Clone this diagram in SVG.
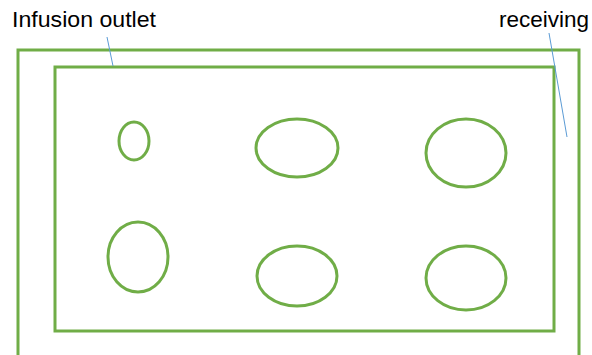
<svg xmlns="http://www.w3.org/2000/svg" width="592" height="355" viewBox="0 0 592 355">
<style>
.g{fill:none;stroke:#70AD47;stroke-width:3}
.l{fill:none;stroke:#5B9BD5;stroke-width:1}
text{font-family:"Liberation Sans",Arial,sans-serif;font-size:22px;fill:#000}
</style>
<rect width="592" height="355" fill="#fff"/>
<g id="outer"><path class="g" d="M18,356 V50 H579 V356"/></g>
<g id="inner"><rect class="g" x="55" y="67" width="499" height="264"/></g>
<g id="holes">
<ellipse class="g" cx="134" cy="141" rx="15" ry="19"/>
<ellipse class="g" cx="297" cy="148" rx="41" ry="29"/>
<ellipse class="g" cx="466" cy="153" rx="40" ry="34"/>
<ellipse class="g" cx="138" cy="257" rx="30" ry="35"/>
<ellipse class="g" cx="297" cy="276" rx="40" ry="30"/>
<ellipse class="g" cx="466" cy="278" rx="40" ry="32"/>
</g>
<g id="connectors">
<line class="l" x1="107" y1="37" x2="113" y2="66"/>
<line class="l" x1="549" y1="33" x2="567" y2="137"/>
</g>
<g id="label-infusion"><text x="12" y="27" textLength="144" lengthAdjust="spacingAndGlyphs">Infusion outlet</text></g>
<g id="label-receiving"><text x="499" y="27" textLength="90" lengthAdjust="spacingAndGlyphs">receiving</text></g>
</svg>
